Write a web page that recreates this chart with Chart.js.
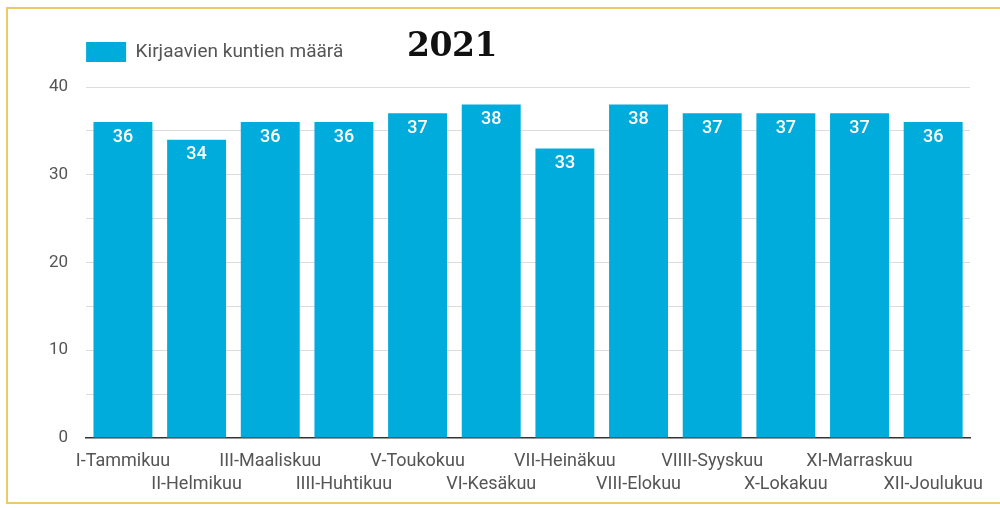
<!DOCTYPE html>
<html>
<head>
<meta charset="utf-8">
<script src="https://cdn.jsdelivr.net/npm/chart.js@4.4.1/dist/chart.umd.min.js"></script>
<style>
  html, body { margin:0; padding:0; background:#fff; }
  body { width:1000px; height:508px; position:relative; overflow:hidden; }
  #frame { position:absolute; left:6px; top:7px; width:1100px; height:497px; border:2px solid #eccb66; box-sizing:border-box; }
  #wrap { position:absolute; left:0; top:0; width:1000px; height:508px; }
  #yr { position:absolute; left:407px; top:25px; font-family:"DejaVu Serif", serif; font-weight:bold; font-size:33px; color:#111; letter-spacing:-0.5px; }
</style>
</head>
<body>
<div id="frame"></div>
<div id="wrap"><canvas id="c" width="1000" height="508"></canvas></div>
<div id="yr">2021</div>
<script>
const categories = ["I-Tammikuu","II-Helmikuu","III-Maaliskuu","IIII-Huhtikuu","V-Toukokuu","VI-Kesäkuu","VII-Heinäkuu","VIII-Elokuu","VIIII-Syyskuu","X-Lokakuu","XI-Marraskuu","XII-Joulukuu"];
const values = [36,34,36,36,37,38,33,38,37,37,37,36];
const seriesName = "Kirjaavien kuntien määrä";
const yTicks = [0,10,20,30,40];

const BAR = "#00acdc";
const FONT = "Roboto";

const legendSpace = {
  id: 'legendSpace',
  beforeInit(chart) {
    const orig = chart.legend.fit;
    chart.legend.fit = function() { orig.call(this); this.height += 15; };
  }
};
const valueLabels = {
  id: 'valueLabels',
  afterDatasetsDraw(chart) {
    const ctx = chart.ctx;
    const meta = chart.getDatasetMeta(0);
    ctx.save();
    ctx.fillStyle = '#fff';
    ctx.font = '500 18px ' + FONT;
    ctx.textAlign = 'center';
    ctx.textBaseline = 'middle';
    meta.data.forEach((bar, i) => {
      ctx.fillText(String(chart.data.datasets[0].data[i]), bar.x, bar.y + 15);
    });
    ctx.restore();
  }
};

new Chart(document.getElementById('c'), {
  type: 'bar',
  data: {
    labels: categories,
    datasets: [{ label: seriesName, data: values, backgroundColor: BAR, borderWidth: 0,
      barPercentage: 0.8, categoryPercentage: 1.0 }]
  },
  options: {
    responsive: false,
    animation: false,
    devicePixelRatio: 1,
    layout: { padding: { left: 31, right: 30, top: 42, bottom: 0 } },
    plugins: {
      legend: {
        position: 'top', align: 'start', fullSize: false,
        labels: { boxWidth: 40, boxHeight: 20, padding: 0, color: '#555', font: { family: FONT, size: 19 } }
      },
      tooltip: { enabled: false }
    },
    scales: {
      x: {
        grid: { display: false, drawTicks: false },
        border: { color: '#333', width: 1.5 },
        ticks: {
          autoSkip: false, maxRotation: 0, minRotation: 0, padding: 12,
          color: '#555', font: { family: FONT, size: 18, lineHeight: 1.28 },
          callback: function(v, i) { const l = categories[i]; return i % 2 === 0 ? [l, ''] : ['', l]; }
        }
      },
      y: {
        min: yTicks[0], max: yTicks[yTicks.length - 1],
        border: { display: false },
        grid: { drawTicks: false, color: '#dcdcdc', lineWidth: 1 },
        ticks: {
          stepSize: 5, padding: 18, color: '#555', font: { family: FONT, size: 17 },
          callback: function(v) { return yTicks.includes(v) ? String(v) : ''; }
        }
      }
    }
  },
  plugins: [legendSpace, valueLabels]
});
</script>
</body>
</html>
